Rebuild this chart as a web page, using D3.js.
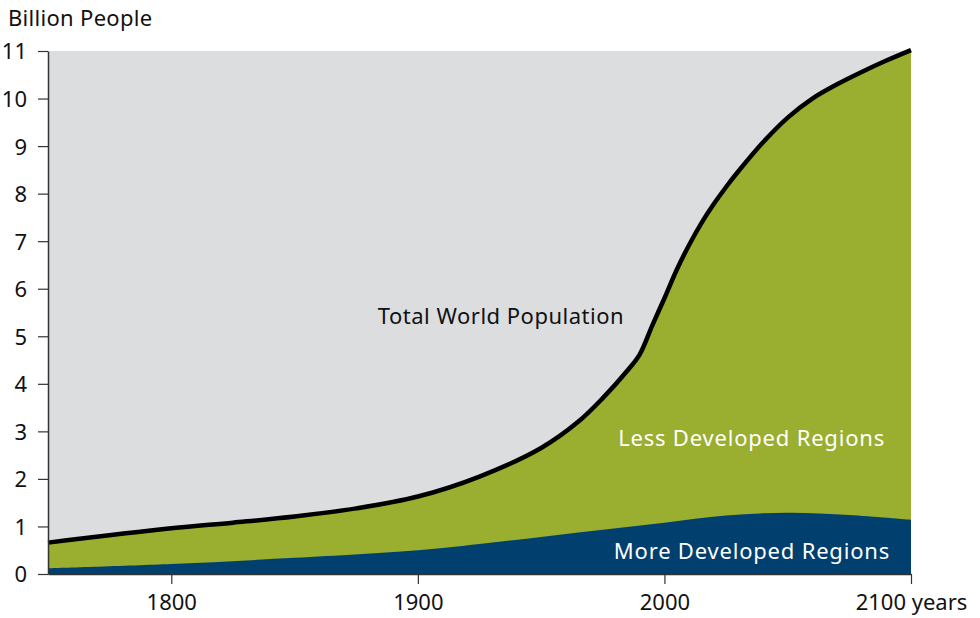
<!DOCTYPE html>
<html>
<head>
<meta charset="utf-8">
<script src="https://cdn.jsdelivr.net/npm/d3@7"></script>
<style>
  body { margin: 0; background: #fff; }
  svg text { font-family: "Noto Sans", "Open Sans", sans-serif; fill: #111; }
</style>
</head>
<body>
<div class="chart"></div>
<script>
'use strict';
// total world population (billion)
var totalYears = [1750, 1800, 1825, 1850, 1875, 1900, 1925, 1950, 1965, 1975, 1985, 1990, 1995, 2000, 2005, 2010, 2015, 2020, 2025, 2030, 2040, 2050, 2060, 2070, 2080, 2090, 2100];
var totalValues = [0.66, 0.96, 1.08, 1.21, 1.38, 1.63, 2.05, 2.65, 3.2, 3.7, 4.28, 4.62, 5.22, 5.8, 6.4, 6.92, 7.38, 7.78, 8.14, 8.47, 9.08, 9.6, 10.0, 10.3, 10.56, 10.8, 11.02];
// more developed regions
var moreYears = [1750, 1800, 1850, 1900, 1925, 1950, 1975, 2000, 2025, 2050, 2075, 2100];
var moreValues = [0.12, 0.21, 0.34, 0.5, 0.63, 0.78, 0.93, 1.08, 1.23, 1.29, 1.24, 1.14];
var yTicks = [0, 1, 2, 3, 4, 5, 6, 7, 8, 9, 10, 11];
var xTicks = [1800, 1900, 2000, 2100];

var width = 980, height = 618;
var margin = {top: 51, right: 69, bottom: 44, left: 48};
var w = width - margin.left - margin.right,
    h = height - margin.top - margin.bottom;

var svg = d3.select(".chart").append("svg")
    .attr("width", width)
    .attr("height", height);

var g = svg.append("g")
    .attr("transform", "translate(" + margin.left + "," + margin.top + ")");

var x = d3.scaleLinear().domain([1750, 2100]).range([0, w]);
var y = d3.scaleLinear().domain([0, 11]).range([h, 0]);

var total = totalYears.map(function (d, i) { return {year: d, value: totalValues[i]}; });
var more = moreYears.map(function (d, i) { return {year: d, value: moreValues[i]}; });

var curve = d3.curveCatmullRom.alpha(0.5);

// background
g.append("rect")
    .attr("width", w)
    .attr("height", h)
    .attr("fill", "#dcdddf");

// less developed = everything under the total
var area = d3.area()
    .curve(curve)
    .x(function (d) { return x(d.year); })
    .y0(y(0))
    .y1(function (d) { return y(d.value); });

g.append("path")
    .datum(total)
    .attr("fill", "#9aae2f")
    .attr("d", area);

g.append("path")
    .datum(more)
    .attr("fill", "#003f6e")
    .attr("d", area);

var line = d3.line()
    .curve(curve)
    .x(function (d) { return x(d.year); })
    .y(function (d) { return y(d.value); });

g.append("path")
    .datum(total)
    .attr("fill", "none")
    .attr("stroke", "#000")
    .attr("stroke-width", 4.5)
    .attr("d", line);

// axes
var yAxis = g.append("g")
    .call(d3.axisLeft(y).tickValues(yTicks).tickSize(10).tickPadding(11).tickSizeOuter(0));
var xAxis = g.append("g")
    .attr("transform", "translate(0," + h + ")")
    .call(d3.axisBottom(x).tickValues(xTicks).tickSize(10).tickPadding(10).tickSizeOuter(0)
        .tickFormat(function (d) { return d === 2100 ? "2100 years" : d; }));

[yAxis, xAxis].forEach(function (a) {
    a.select(".domain").attr("stroke", "#333").attr("stroke-width", 1.5);
    a.selectAll(".tick line").attr("stroke", "#333").attr("stroke-width", 1.2);
    a.selectAll(".tick text").style("font-size", "22px").attr("fill", "#111");
});
yAxis.selectAll(".tick text").attr("dy", "0.36em");

// labels
svg.append("text")
    .attr("x", 8)
    .attr("y", 26)
    .style("font-size", "22px")
    .style("letter-spacing", "0.3px")
    .text("Billion People");

g.append("text")
    .attr("x", x(1933.7))
    .attr("y", y(5.25))
    .attr("text-anchor", "middle")
    .style("font-size", "22px")
    .style("letter-spacing", "0.5px")
    .text("Total World Population");

g.append("text")
    .attr("x", w - 26)
    .attr("y", y(2.7))
    .attr("text-anchor", "end")
    .style("font-size", "22px")
    .style("letter-spacing", "0.8px")
    .style("fill", "#fff")
    .text("Less Developed Regions");

g.append("text")
    .attr("x", w - 21)
    .attr("y", y(0.31))
    .attr("text-anchor", "end")
    .style("font-size", "22px")
    .style("letter-spacing", "0.8px")
    .style("fill", "#fff")
    .text("More Developed Regions");
</script>
</body>
</html>
